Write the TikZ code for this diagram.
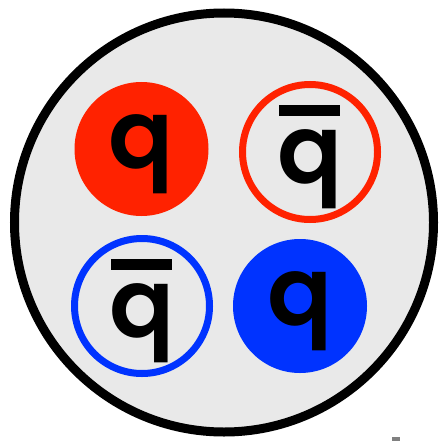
\documentclass[tikz,border=0pt]{standalone}
\usepackage{fontspec}
\newfontfamily\quarkfont{Poppins SemiBold}
\definecolor{hadrongray}{HTML}{E9E9E9}
\definecolor{quarkred}{HTML}{FF2200}
\definecolor{quarkblue}{HTML}{0033FF}
\tikzset{
  quark/.style={circle,minimum size=134pt,inner sep=0pt},
  antiquark/.style={circle,minimum size=135pt,inner sep=0pt,line width=7pt},
  letter/.style={inner sep=0pt,font=\quarkfont\fontsize{96}{96}\selectfont}
}
\begin{document}
\begin{tikzpicture}[x=1pt,y=-1pt]
  \useasboundingbox (0,0) rectangle (443,441);
  % the hadron
  \draw[line width=9pt,fill=hadrongray] (224,222.5) circle (209.5);
  % quarks and antiquarks
  \node[quark,fill=quarkred] (qr) at (141.5,149) {};
  \node[antiquark,draw=quarkred] (qbr) at (310,152) {};
  \node[antiquark,draw=quarkblue] (qbb) at (142,306) {};
  \node[quark,fill=quarkblue] (qb) at (300,306) {};
  % letters
  \node[letter] (lr) at ([yshift=-5pt]qr) {q};
  \node[letter] (lbr) at ([yshift=-17pt]qbr) {q};
  \node[letter] (lbb) at ([yshift=-17pt]qbb) {q};
  \node[letter] (lb) at ([yshift=-5pt]qb) {q};
  \fill ([xshift=-31pt,yshift=47pt]qbr) rectangle ([xshift=30pt,yshift=36pt]qbr);
  \fill ([xshift=-31pt,yshift=47pt]qbb) rectangle ([xshift=30pt,yshift=36pt]qbb);
  \fill[gray] (392,437) rectangle (400,441);
\end{tikzpicture}
\end{document}
